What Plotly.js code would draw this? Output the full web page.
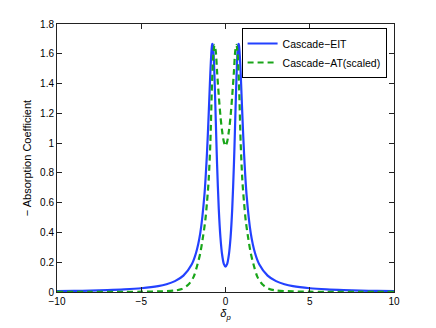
<!DOCTYPE html>
<html>
<head>
<meta charset="utf-8">
<script src="https://cdn.plot.ly/plotly-3.0.1.min.js"></script>
<style>
  html, body { margin: 0; padding: 0; background: #fff; }
  #plot { width: 436px; height: 328px; }
</style>
</head>
<body>
<div id="plot"></div>
<script>
// detuning values (one side, mirrored below)
let detHalf = [0, 0.1, 0.2, 0.3, 0.4, 0.5, 0.55, 0.6, 0.65, 0.7, 0.75, 0.78, 0.8, 0.85, 0.9, 0.95,
  1.0, 1.1, 1.25, 1.5, 1.75, 2, 2.5, 3, 3.5, 4, 5, 6, 7, 8, 9, 10];

// Cascade-EIT absorption
let eitHalf = [0.170, 0.189, 0.250, 0.366, 0.560, 0.859, 1.045, 1.245, 1.432, 1.579, 1.657, 1.666, 1.657, 1.587, 1.470, 1.330,
  1.188, 0.932, 0.653, 0.394, 0.262, 0.187, 0.110, 0.073, 0.052, 0.039, 0.025, 0.017, 0.012, 0.009, 0.007, 0.006];

// Cascade-AT (scaled)
let atX = [0, 0.1, 0.2, 0.3, 0.4, 0.5, 0.58, 0.65, 0.72, 0.8, 0.9, 1.0, 1.1, 1.2, 1.35, 1.5, 1.7, 1.9, 2.2, 2.6, 3, 4, 5, 6, 8, 10];
let atHalf = [0.98, 1.01, 1.08, 1.18, 1.32, 1.48, 1.62, 1.66, 1.60, 1.40, 1.0, 0.75, 0.60, 0.48, 0.36, 0.26, 0.17, 0.10, 0.05, 0.02, 0.01, 0.004, 0.002, 0.001, 0.001, 0.001];

// mirror a half curve to the full -10..10 range
const mirror = (xs, ys) => {
  let x = [], y = [];
  for (let i = xs.length - 1; i > 0; i--) { x.push(-xs[i]); y.push(ys[i]); }
  for (let i = 0; i < xs.length; i++) { x.push(xs[i]); y.push(ys[i]); }
  return {x: x, y: y};
};

let eit = mirror(detHalf, eitHalf);
let at = mirror(atX, atHalf);

let trace1 = {
  x: eit.x, y: eit.y,
  name: "Cascade\u2212EIT",
  type: "scatter", mode: "lines",
  line: {color: "rgb(35,65,255)", width: 2.2, shape: "spline", smoothing: 0.8}
};

let trace2 = {
  x: at.x, y: at.y,
  name: "Cascade\u2212AT(scaled)",
  type: "scatter", mode: "lines",
  line: {color: "rgb(25,165,25)", width: 2.2, dash: "6px,4px", shape: "spline", smoothing: 0.8}
};

let axisStyle = {
  showline: true, linecolor: "#222", linewidth: 1, mirror: "ticks",
  ticks: "inside", ticklen: 5, tickcolor: "#222",
  showgrid: false, zeroline: false,
  tickfont: {size: 10, color: "#000"}
};

let layout = {
  width: 436, height: 328,
  margin: {l: 57, r: 42, t: 24, b: 36},
  paper_bgcolor: "#fff", plot_bgcolor: "#fff",
  font: {family: "Liberation Sans, Arial, sans-serif", size: 10, color: "#000"},
  showlegend: true,
  legend: {
    x: 0.978, y: 0.985, xanchor: "right", yanchor: "top",
    bordercolor: "#000", borderwidth: 1, bgcolor: "#fff",
    font: {size: 10.5}, tracegroupgap: 0
  },
  xaxis: Object.assign({}, axisStyle, {
    range: [-10, 10], tickvals: [-10, -5, 0, 5, 10], ticktext: ["\u221210", "\u22125", "0", "5", "10"],
    title: {text: "<i>\u03b4</i><sub><i>p</i></sub>", font: {size: 11}, standoff: 3}
  }),
  yaxis: Object.assign({}, axisStyle, {
    range: [0, 1.8], tickvals: [0, 0.2, 0.4, 0.6, 0.8, 1, 1.2, 1.4, 1.6, 1.8],
    ticktext: ["0", "0.2", "0.4", "0.6", "0.8", "1", "1.2", "1.4", "1.6", "1.8"],
    title: {text: "\u2212 Absorption Coefficient", font: {size: 11}, standoff: 6}
  })
};

Plotly.newPlot("plot", [trace1, trace2], layout, {staticPlot: true});
</script>
</body>
</html>
